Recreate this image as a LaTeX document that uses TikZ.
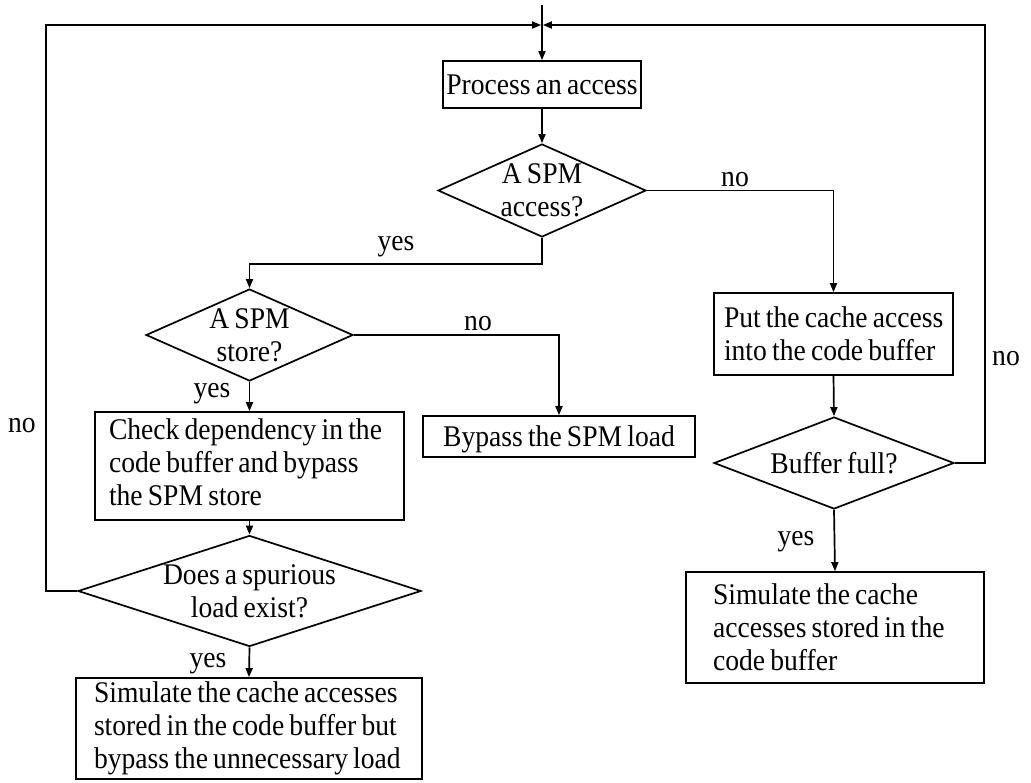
\documentclass[tikz,border=0pt]{standalone}
\usepackage{fontspec}
\setmainfont{Liberation Serif}[FakeStretch=0.92, WordSpace=0.75]
\usetikzlibrary{shapes.geometric,arrows.meta}
\hfuzz=40pt
\newcommand{\lowend}{\rule[-8pt]{0pt}{8pt}}
\begin{document}
\begin{tikzpicture}[x=1pt,y=-1pt,
  every node/.style={font=\fontsize{30}{33}\selectfont},
  box/.style={draw, line width=1.7pt, rectangle, inner ysep=0pt, align=flush left},
  cbox/.style={draw, line width=1.7pt, rectangle, inner sep=0pt, align=center},
  query/.style={draw, line width=1.7pt, diamond, inner sep=0pt, align=center},
  lbl/.style={anchor=base, inner sep=0pt},
  arr/.style={line width=1.7pt, -{Triangle[length=9pt,width=7pt]}}]
\useasboundingbox (0,0) rectangle (1031,782);

% entry and loop-back junction
\coordinate (top) at (542,5);
\coordinate (join) at (542,25);
\coordinate (lt) at (46,25);
\coordinate (rt) at (985,25);

% process boxes and decisions
\node[cbox, minimum width=198pt, minimum height=47pt] (proc) at (542,84.5) {Process an access};
\node[query, minimum width=208pt, minimum height=93pt, shape aspect=2.24] (d1) at (542,190.5) {A SPM\\access?};
\node[query, minimum width=207pt, minimum height=92pt, shape aspect=2.25] (d2) at (249.5,335) {A SPM\\store?};
\node[cbox, minimum width=272pt, minimum height=41pt, text depth=0pt] (bypass) at (559,436.5) {Bypass the SPM load};
\node[box, inner xsep=14pt, text width=281pt, minimum height=108pt] (check) at (249.5,466)
  {\mbox{Check dependency in the}\\\mbox{code buffer and bypass}\\\mbox{the SPM store}\lowend};
\node[query, minimum width=343pt, minimum height=111pt, shape aspect=3.09] (d3) at (249.5,591) {Does a spurious\\load exist?};
\node[box, inner xsep=18pt, text width=310pt, minimum height=101pt] (sim1) at (249,728.5)
  {\mbox{Simulate the cache accesses}\\\mbox{stored in the code buffer but}\\\mbox{bypass the unnecessary load}};
\node[box, inner xsep=10pt, text width=219pt, minimum height=82pt] (put) at (833.5,334)
  {\mbox{Put the cache access}\\\mbox{into the code buffer}};
\node[query, minimum width=240pt, minimum height=92pt, shape aspect=2.6] (bf) at (834,463) {Buffer full?};
\node[box, inner xsep=27pt, text width=244pt, minimum height=111pt] (sim2) at (835,627.5)
  {\mbox{Simulate the cache}\\\mbox{accesses stored in the}\\\mbox{code buffer}};

% branch labels
\node[lbl] (no1) at (735,186) {no};
\node[lbl] (yes1) at (396,250) {yes};
\node[lbl] (no2) at (478,330) {no};
\node[lbl] (yes2) at (212,397) {yes};
\node[lbl] (no3) at (22,432) {no};
\node[lbl] (no4) at (1006,365) {no};
\node[lbl] (yes3) at (796,545) {yes};
\node[lbl] (yes4) at (208,667) {yes};

% connectors
\draw[arr] (top) -- (proc.north);
\draw[arr] (proc.south) -- (d1.north);
\draw[arr] (d1.south) -- ++(0,26) -| (d2.north);
\draw[arr] (d1.east) -| (put.north);
\draw[arr] (d2.east) -| (bypass.north);
\draw[arr] (d2.south) -- (check.north);
\draw[arr] (check.south) -- (d3.north);
\draw[arr] (d3.south) -- (sim1.north);
\draw[arr, shorten >=0.85pt] (d3.west) -| (lt) -- (join);
\draw[arr] (put.south) -- (bf.north);
\draw[arr, shorten >=0.85pt] (bf.east) -| (rt) -- (join);
\draw[arr] (bf.south) -- (sim2.north);
\end{tikzpicture}
\end{document}
